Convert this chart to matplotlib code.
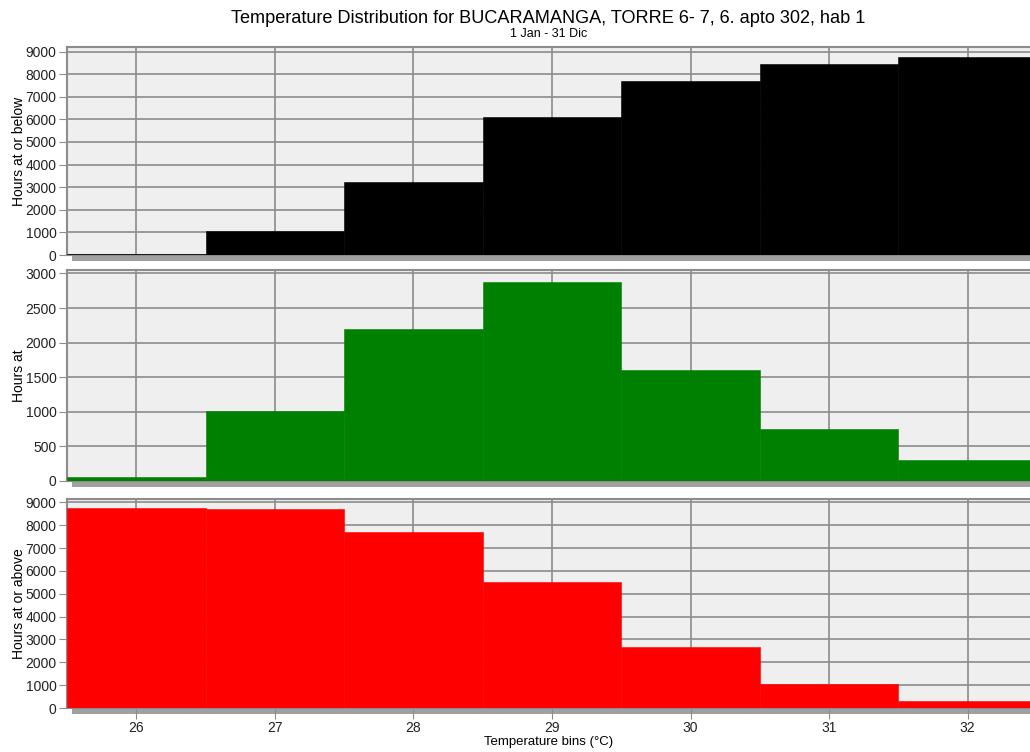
import matplotlib.pyplot as plt
from matplotlib.patches import Rectangle

plt.rcParams['font.family'] = ['Liberation Sans', 'DejaVu Sans']

# bins (°C) and hours
bins = [26, 27, 28, 29, 30, 31, 32]
hours_below = [60, 1050, 3250, 6120, 7700, 8450, 8740]
hours_at = [60, 1010, 2190, 2870, 1600, 750, 300]
hours_above = [8770, 8720, 7720, 5530, 2670, 1050, 320]

panels = [
    (hours_below, 'black', 'Hours at or below', 9200, range(0, 9001, 1000)),
    (hours_at, 'green', 'Hours at', 3050, range(0, 3001, 500)),
    (hours_above, 'red', 'Hours at or above', 9150, range(0, 9001, 1000)),
]
boxes = [(0.9375, 0.6609), (0.641, 0.3604), (0.3364, 0.0585)]

fig = plt.figure(figsize=(10.3, 7.52), dpi=100)
left = 67 / 1030
axes = []
for (vals, col, lab, ytop, yt), (top, bot) in zip(panels, boxes):
    ax = fig.add_axes([left, bot, 1 - left, top - bot])
    ax.set_facecolor('#eeefee')
    ax.bar(bins, vals, width=1.0, color=col, edgecolor=col, linewidth=0.4, zorder=3)
    ax.set_xlim(25.5, 32.45)
    ax.set_ylim(0, ytop)
    ax.set_yticks(list(yt))
    ax.set_xticks(bins)
    ax.grid(True, color='#8c8c8c', linewidth=1.2, zorder=1)
    ax.set_axisbelow(True)
    ax.spines['right'].set_visible(False)
    for s in ['left', 'top', 'bottom']:
        ax.spines[s].set_color('#8c8c8c')
        ax.spines[s].set_linewidth(1.5)
    ax.tick_params(axis='y', direction='out', length=6, color='#8c8c8c',
                   labelsize=10, labelcolor='#222222', pad=1.5)
    ax.tick_params(axis='x', direction='out', length=0, color='#8c8c8c',
                   labelsize=10, labelcolor='#222222')
    ax.set_ylabel(lab, fontsize=10)
    # shadow band under the axis
    ax.add_patch(Rectangle((0.005, -0.03), 1.0, 0.03, transform=ax.transAxes,
                           facecolor='#a0a0a0', edgecolor='none', clip_on=False, zorder=0))
    ax.yaxis.set_label_coords(-0.043, 0.5)
    axes.append(ax)

for ax in axes[:2]:
    ax.tick_params(axis='x', labelbottom=False)
axes[2].tick_params(axis='x', length=8, pad=1)
axes[2].set_xlabel('Temperature bins (°C)', fontsize=9.5, labelpad=1)

cx = left + (1 - left) / 2
fig.text(cx, 0.976, 'Temperature Distribution for BUCARAMANGA, TORRE 6- 7, 6. apto 302, hab 1',
         ha='center', va='center', fontsize=13.1)
fig.text(cx, 0.955, '1 Jan - 31 Dic', ha='center', va='center', fontsize=9)

fig.savefig('out.png', dpi=100)
